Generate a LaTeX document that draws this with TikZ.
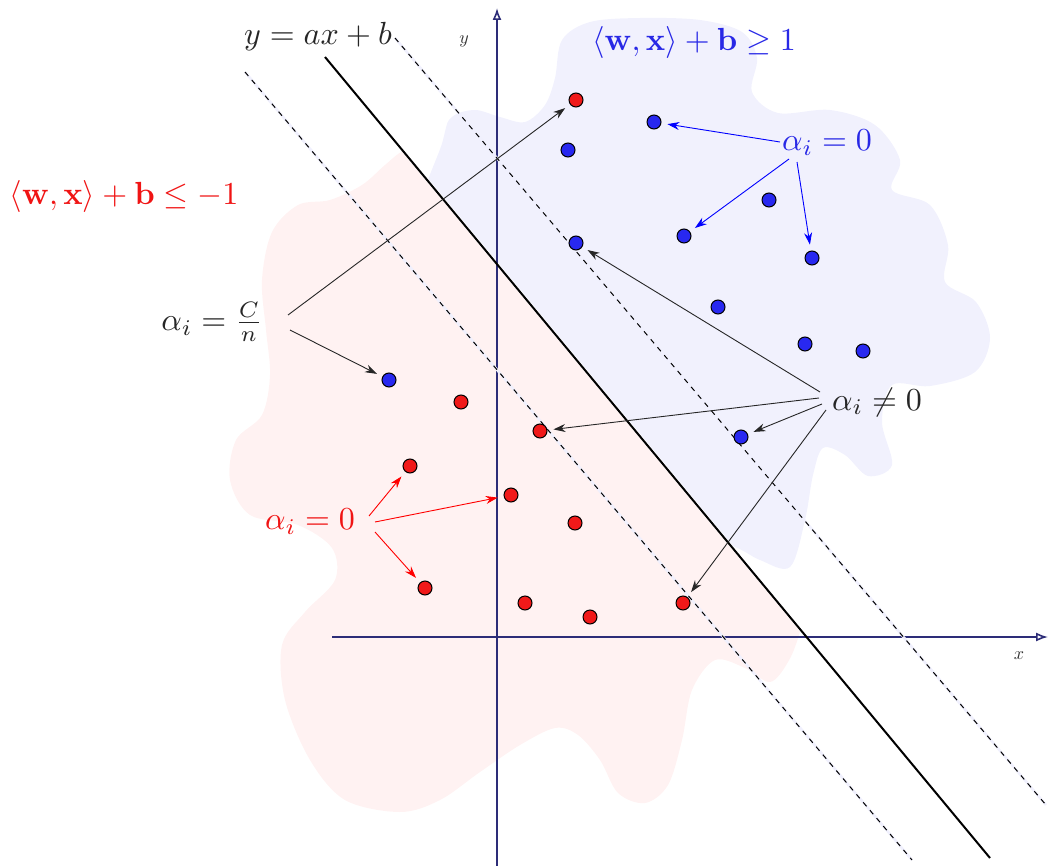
\documentclass[tikz,border=0pt]{standalone}
\usetikzlibrary{arrows.meta}
\definecolor{pinkbg}{RGB}{255,242,242}
\definecolor{bluebg}{RGB}{241,241,253}
\definecolor{navy}{RGB}{45,45,120}
\definecolor{ptred}{RGB}{240,25,25}
\definecolor{ptblue}{RGB}{40,40,240}
\definecolor{lblred}{RGB}{240,20,20}
\definecolor{lblblue}{RGB}{40,40,230}
\definecolor{halo}{RGB}{240,240,253}
\tikzset{
  redpt/.style={circle,draw=black,fill=ptred,line width=0.5pt,minimum size=7pt,inner sep=0pt},
  bluept/.style={circle,draw=black,fill=ptblue,line width=0.5pt,minimum size=7pt,inner sep=0pt},
  lbl/.style={inner sep=0pt,scale=1.6},
  axlbl/.style={inner sep=0pt,scale=0.9,text=black!80},
  axis/.style={draw=navy,line width=0.8pt,-{Latex[open,length=6pt,width=4.5pt]}},
  arr/.style={line width=0.45pt,-{Stealth[length=6pt,width=4pt]},shorten >=3pt},
  dsh/.style={line width=0.5pt,dash pattern=on 2.6pt off 2.6pt},
  halol/.style={draw=halo,line width=1.3pt},
}
\begin{document}
\begin{tikzpicture}[x=0.5pt,y=-0.5pt]
\useasboundingbox (0,0) rectangle (1048,866);
% blobs, each clipped to its side of the solid line
\begin{scope}
\clip (193,-100) -- (1106,1000) -- (-100,1000) -- (-100,-100) -- cycle;
\fill[pinkbg] plot[smooth cycle,tension=0.55] coordinates {
 (405,150) (440,140) (600,290) (760,470) (820,560) (800,632) (788,662) (770,682)
 (745,668) (715,660) (692,690) (682,740) (668,785) (645,803) (618,793) (600,760)
 (578,735) (555,728) (520,745) (480,772) (440,800) (400,812) (345,800) (310,760)
 (285,700) (282,645) (305,612) (335,580) (332,548) (298,525) (250,515) (230,480)
 (236,440) (262,415) (270,375) (266,330) (262,280) (272,232) (298,205) (330,200)
 (362,185) (385,165)};
\end{scope}
\begin{scope}
\clip (197,-100) -- (1110,1000) -- (1200,1000) -- (1200,-100) -- cycle;
\fill[bluebg] plot[smooth cycle,tension=0.55] coordinates {
 (443,140) (452,117) (475,110) (500,117) (525,122) (545,105) (555,78) (562,40)
 (590,22) (640,18) (700,20) (742,32) (757,58) (752,92) (778,113) (830,110)
 (875,125) (900,160) (892,190) (930,205) (948,245) (945,282) (976,302) (990,338)
 (975,372) (930,386) (892,385) (882,422) (892,465) (868,476) (845,455) (823,448)
 (813,475) (805,520) (790,567) (760,560) (730,545) (650,520) (520,400) (420,250)};
\end{scope}
% axes
\draw[axis] (497,866) -- (497,8);
\draw[axis] (332,637) -- (1048,637);
\node[axlbl] (ylab) at (464,41) {$y$};
\node[axlbl] (xlab) at (1019,656) {$x$};
% separating lines
\coordinate (dl1) at (245,72);  \coordinate (dl2) at (912,860);
\coordinate (dr1) at (395,38);  \coordinate (dr2) at (1046,805);
\coordinate (s1) at (325,57);   \coordinate (s2) at (990,858);
\draw[halol] (dl1) -- (dl2);
\draw[halol] (dr1) -- (dr2);
\draw[dsh] (dl1) -- (dl2);
\draw[dsh] (dr1) -- (dr2);
\draw[line width=1pt] (s1) -- (s2);
% labels
\node[lbl,text=black!85] (eq) at (318,37) {$y = ax + b$};
\node[lbl,text=lblblue] (bl) at (694,43) {$\langle \mathbf{w},\mathbf{x}\rangle + \mathbf{b} \geq 1$};
\node[lbl,text=lblred] (rl) at (124,197) {$\langle \mathbf{w},\mathbf{x}\rangle + \mathbf{b} \leq -1$};
\node[lbl,text=black!85] (cn) at (212,322) {$\alpha_i = \frac{C}{n}$};
\node[lbl,text=black!85] (ne) at (877,402) {$\alpha_i \neq 0$};
\node[lbl,text=lblblue] (bz) at (827,143) {$\alpha_i = 0$};
\node[lbl,text=lblred] (rz) at (310,522) {$\alpha_i = 0$};
% points
\node[redpt] (r1) at (576,100) {};
\node[redpt] (r2) at (461,402) {};
\node[redpt] (r3) at (540,431) {};
\node[redpt] (r4) at (410,466) {};
\node[redpt] (r5) at (511,495) {};
\node[redpt] (r6) at (575,523) {};
\node[redpt] (r7) at (425,588) {};
\node[redpt] (r8) at (525,603) {};
\node[redpt] (r9) at (590,617) {};
\node[redpt] (r10) at (683,603) {};
\node[bluept] (b1) at (654,122) {};
\node[bluept] (b2) at (568,150) {};
\node[bluept] (b3) at (576,243) {};
\node[bluept] (b4) at (769,200) {};
\node[bluept] (b5) at (684,236) {};
\node[bluept] (b6) at (812,258) {};
\node[bluept] (b7) at (718,307) {};
\node[bluept] (b8) at (805,344) {};
\node[bluept] (b9) at (863,351) {};
\node[bluept] (b10) at (389,380) {};
\node[bluept] (b11) at (741,437) {};
% arrow start points
\coordinate (cnA) at (288,315);
\coordinate (cnB) at (290,330);
\coordinate (neA) at (820,392);
\coordinate (neB) at (819,398);
\coordinate (neC) at (822,404);
\coordinate (neD) at (826,410);
\coordinate (bzA) at (780,142);
\coordinate (bzB) at (789,159);
\coordinate (bzC) at (797,162);
\coordinate (rzA) at (369,516);
\coordinate (rzB) at (375,522);
\coordinate (rzC) at (375,532);
% arrows
\draw[arr,black!85] (cnA) -- (r1);
\draw[arr,black!85] (cnB) -- (b10);
\draw[arr,black!85] (neA) -- (b3);
\draw[arr,black!85] (neB) -- (r3);
\draw[arr,black!85] (neC) -- (b11);
\draw[arr,black!85] (neD) -- (r10);
\draw[arr,blue] (bzA) -- (b1);
\draw[arr,blue] (bzB) -- (b5);
\draw[arr,blue] (bzC) -- (b6);
\draw[arr,red] (rzA) -- (r4);
\draw[arr,red] (rzB) -- (r5);
\draw[arr,red] (rzC) -- (r7);
\end{tikzpicture}
\end{document}
